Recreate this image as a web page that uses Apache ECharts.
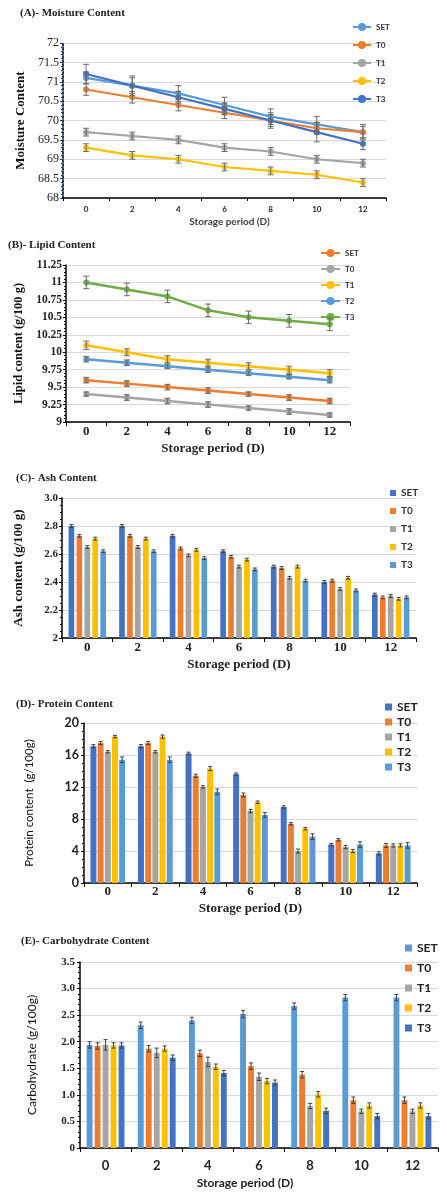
<!DOCTYPE html>
<html><head><meta charset="utf-8">
<script src="https://cdn.jsdelivr.net/npm/echarts@6/dist/echarts.min.js"></script>
<style>html,body{margin:0;padding:0;background:#fff}#c{width:447px;height:1200px}</style>
</head><body><div id="c"></div>
<script>
// ---------------- data ----------------
const days = ['0','2','4','6','8','10','12'];
const groups = ['SET','T0','T1','T2','T3'];

// (A) Moisture content
const moistSET = [71.1,70.9,70.7,70.4,70.1,69.9,69.7];
const moistT0  = [70.8,70.6,70.4,70.2,70.0,69.8,69.7];
const moistT1  = [69.7,69.6,69.5,69.3,69.2,69.0,68.9];
const moistT2  = [69.3,69.1,69.0,68.8,68.7,68.6,68.4];
const moistT3  = [71.2,70.9,70.6,70.3,70.0,69.7,69.4];
const moistErrSET = [0.15,0.2,0.2,0.2,0.2,0.2,0.2];
const moistErrT0  = [0.15,0.15,0.15,0.15,0.15,0.15,0.15];
const moistErrT1  = [0.1,0.1,0.1,0.1,0.1,0.1,0.1];
const moistErrT2  = [0.1,0.1,0.1,0.1,0.1,0.1,0.1];
const moistErrT3  = [0.25,0.25,0.15,0.15,0.2,0.25,0.15];
const moistTicks = ['68','68.5','69','69.5','70','70.5','71','71.5','72'];

// (B) Lipid content
const lipidSET = [9.6,9.55,9.5,9.45,9.4,9.35,9.3];
const lipidT0  = [9.4,9.35,9.3,9.25,9.2,9.15,9.1];
const lipidT1  = [10.1,10.0,9.9,9.85,9.8,9.75,9.7];
const lipidT2  = [9.9,9.85,9.8,9.75,9.7,9.65,9.6];
const lipidT3  = [11.0,10.9,10.8,10.6,10.5,10.45,10.4];
const lipidErrSET = [0.04,0.04,0.04,0.04,0.03,0.04,0.04];
const lipidErrT0  = [0.03,0.04,0.04,0.04,0.03,0.04,0.03];
const lipidErrT1  = [0.06,0.05,0.05,0.05,0.05,0.05,0.05];
const lipidErrT2  = [0.04,0.04,0.03,0.04,0.03,0.03,0.04];
const lipidErrT3  = [0.09,0.09,0.09,0.09,0.09,0.09,0.09];
const lipidTicks = ['9','9.25','9.5','9.75','10','10.25','10.5','10.75','11','11.25'];

// (C) Ash content
const ashSET = [2.80,2.80,2.73,2.62,2.51,2.40,2.31];
const ashT0  = [2.73,2.73,2.64,2.58,2.50,2.41,2.29];
const ashT1  = [2.65,2.65,2.59,2.51,2.43,2.35,2.30];
const ashT2  = [2.71,2.71,2.63,2.56,2.51,2.43,2.28];
const ashT3  = [2.62,2.62,2.57,2.49,2.41,2.34,2.29];
const ashErr = [0.01,0.01,0.01,0.01,0.01,0.01,0.01];
const ashTicks = ['2','2.2','2.4','2.6','2.8','3.0'];

// (D) Protein content
const protSET = [17.1,17.1,16.2,13.6,9.5,4.8,3.7];
const protT0  = [17.5,17.5,13.4,11.0,7.4,5.4,4.7];
const protT1  = [16.4,16.4,12.0,9.0,4.0,4.5,4.7];
const protT2  = [18.3,18.3,14.3,10.1,6.8,4.0,4.7];
const protT3  = [15.4,15.4,11.4,8.5,5.8,4.8,4.7];
const protErrSET = [0.2,0.2,0.15,0.15,0.15,0.15,0.2];
const protErrT0  = [0.2,0.2,0.2,0.25,0.15,0.15,0.25];
const protErrT1  = [0.15,0.15,0.15,0.2,0.25,0.2,0.2];
const protErrT2  = [0.15,0.2,0.25,0.15,0.15,0.2,0.2];
const protErrT3  = [0.35,0.35,0.35,0.3,0.35,0.35,0.35];
const protTicks = ['0','4','8','12','16','20'];

// (E) Carbohydrate content
const carbSET = [1.94,2.31,2.40,2.52,2.67,2.83,2.83];
const carbT0  = [1.92,1.87,1.78,1.54,1.38,0.90,0.90];
const carbT1  = [1.94,1.79,1.62,1.34,0.79,0.69,0.69];
const carbT2  = [1.93,1.87,1.53,1.26,1.01,0.80,0.80];
const carbT3  = [1.93,1.70,1.41,1.23,0.70,0.60,0.60];
const carbErrSET = [0.06,0.06,0.06,0.07,0.06,0.06,0.06];
const carbErrT0  = [0.06,0.06,0.06,0.06,0.06,0.06,0.06];
const carbErrT1  = [0.1,0.09,0.09,0.07,0.05,0.04,0.04];
const carbErrT2  = [0.05,0.05,0.05,0.05,0.05,0.05,0.05];
const carbErrT3  = [0.05,0.05,0.05,0.05,0.05,0.05,0.05];
const carbTicks = ['0','0.5','1.0','1.5','2.0','2.5','3.0','3.5'];

// ---------------- styling ----------------
const SERIF = 'Liberation Serif', SANS = 'Lato';
const BLUE='#4472C4', ORANGE='#ED7D31', GRAY='#A5A5A5', GOLD='#FFC000', LBLUE='#5B9BD5', GREEN='#70AD47';

const panelA = {vals:[moistSET,moistT0,moistT1,moistT2,moistT3], errs:[moistErrSET,moistErrT0,moistErrT1,moistErrT2,moistErrT3], colors:[LBLUE,ORANGE,GRAY,GOLD,BLUE]};
const panelB = {vals:[lipidSET,lipidT0,lipidT1,lipidT2,lipidT3], errs:[lipidErrSET,lipidErrT0,lipidErrT1,lipidErrT2,lipidErrT3], colors:[ORANGE,GRAY,GOLD,LBLUE,GREEN]};
const panelC = {vals:[ashSET,ashT0,ashT1,ashT2,ashT3], errs:[ashErr,ashErr,ashErr,ashErr,ashErr], colors:[BLUE,ORANGE,GRAY,GOLD,LBLUE], bar:{cat:0.26, gap:0.4}};
const panelD = {vals:[protSET,protT0,protT1,protT2,protT3], errs:[protErrSET,protErrT0,protErrT1,protErrT2,protErrT3], colors:[BLUE,ORANGE,GRAY,GOLD,LBLUE], bar:{cat:0.27, gap:0.2}};
const panelE = {vals:[carbSET,carbT0,carbT1,carbT2,carbT3], errs:[carbErrSET,carbErrT0,carbErrT1,carbErrT2,carbErrT3], colors:[LBLUE,ORANGE,GRAY,GOLD,BLUE], bar:{cat:0.26, gap:0.35}};

function errorSeries(p, name, vals, errs, idx, n, barCfg, color, cap) {
  return {
    type:'custom', name: name + ':err', xAxisIndex:p, yAxisIndex:p, z:5, silent:true,
    data: vals.map((v,i)=>[i, v, errs[i]]),
    encode:{x:0, y:1},
    renderItem(params, api){
      const xi = api.value(0), v = api.value(1), e = api.value(2);
      const base = api.coord([xi, v]);
      let cx = base[0];
      if (barCfg) {
        const bw = api.size([1,0])[0];
        const rem = bw*(1-barCfg.cat);
        const w = rem/(n+(n-1)*barCfg.gap);
        const total = w*n + w*barCfg.gap*(n-1);
        cx = base[0] - total/2 + idx*w*(1+barCfg.gap) + w/2;
      }
      const y1 = api.coord([xi, v+e])[1], y2 = api.coord([xi, v-e])[1];
      const st = {stroke: color, lineWidth: 1};
      return {type:'group', children:[
        {type:'line', shape:{x1:cx,y1:y1,x2:cx,y2:y2}, style:st},
        {type:'line', shape:{x1:cx-cap,y1:y1,x2:cx+cap,y2:y1}, style:st},
        {type:'line', shape:{x1:cx-cap,y1:y2,x2:cx+cap,y2:y2}, style:st}
      ]};
    }
  };
}

const series = [];
function addPanel(p, key, cfg, type) {
  groups.forEach((g, i) => {
    const name = key + ':' + g;
    if (type === 'line') {
      series.push({type:'line', name, xAxisIndex:p, yAxisIndex:p, data:cfg.vals[i], z:3,
        symbol:'circle', symbolSize:6, color:cfg.colors[i],
        lineStyle:{width: key==='A'?2.2:2.5, color:cfg.colors[i]}, itemStyle:{color:cfg.colors[i]}});
    } else {
      series.push({type:'bar', name, xAxisIndex:p, yAxisIndex:p, data:cfg.vals[i], z:2,
        barCategoryGap: (cfg.bar.cat*100)+'%', barGap:(cfg.bar.gap*100)+'%',
        color:cfg.colors[i], itemStyle:{color:cfg.colors[i]}});
    }
  });
  groups.forEach((g, i) => {
    series.push(errorSeries(p, key + ':' + g, cfg.vals[i], cfg.errs[i], i, groups.length,
      type === 'line' ? null : cfg.bar, type === 'line' ? '#6b6b6b' : '#404040', type === 'line' ? 3 : 2));
  });
}
addPanel(0,'A',panelA,'line');
addPanel(1,'B',panelB,'line');
addPanel(2,'C',panelC,'bar');
addPanel(3,'D',panelD,'bar');
addPanel(4,'E',panelE,'bar');

const titleStyle = {fontFamily:SERIF, fontWeight:'bold', fontSize:11, color:'#222'};
const splitLine = {show:true, lineStyle:{color:'#d9d9d9', width:1}};
const blackAxis = {show:true, lineStyle:{color:'#000', width:1.5}};
const minorTick = {show:true, splitNumber:5, length:2, lineStyle:{color:'#000'}};

function legend(key, left, top, opts) {
  return Object.assign({
    orient:'vertical', left, top, padding:0,
    data: groups.map(g => key + ':' + g),
    formatter: n => n.split(':')[1],
    selectedMode:false,
  }, opts);
}

const option = {
  animation:false,
  backgroundColor:'#fff',
  title:[
    {text:'(A)- Moisture Content', left:20, top:8, padding:0, textStyle:titleStyle},
    {text:'(B)- Lipid Content', left:8, top:240, padding:0, textStyle:titleStyle},
    {text:'(C)- Ash Content', left:16, top:473, padding:0, textStyle:titleStyle},
    {text:'(D)- Protein Content', left:16, top:699, padding:0, textStyle:titleStyle},
    {text:'(E)- Carbohydrate Content', left:21, top:936, padding:0, textStyle:titleStyle},
  ],
  legend:[
    legend('A', 352, 22, {itemWidth:18, itemHeight:10, itemGap:8,
      textStyle:{fontFamily:SANS, fontWeight:'bold', fontSize:8, lineHeight:10, color:'#333'}}),
    legend('B', 320, 248, {itemWidth:19, itemHeight:10, itemGap:6,
      textStyle:{fontFamily:SANS, fontWeight:'bold', fontSize:8, lineHeight:10, color:'#333'}}),
    legend('C', 390, 488, {icon:'rect', itemWidth:6, itemHeight:6, itemGap:8,
      textStyle:{fontFamily:SANS, fontWeight:'bold', fontSize:10, lineHeight:10, color:'#333'}}),
    legend('D', 385, 701, {icon:'rect', itemWidth:7, itemHeight:7, itemGap:3,
      textStyle:{fontFamily:SANS, fontWeight:'bold', fontSize:12, lineHeight:12, color:'#222'}}),
    legend('E', 405, 942, {icon:'rect', itemWidth:7, itemHeight:7, itemGap:8,
      textStyle:{fontFamily:SANS, fontWeight:'bold', fontSize:12, lineHeight:12, color:'#222'}}),
  ],
  grid:[
    {left:63, top:43, width:323, height:155, outerBoundsMode:'none'},
    {left:66, top:265, width:284, height:157, outerBoundsMode:'none'},
    {left:62, top:498, width:354, height:140, outerBoundsMode:'none'},
    {left:84, top:723, width:333, height:160, outerBoundsMode:'none'},
    {left:80, top:962, width:358, height:186, outerBoundsMode:'none'},
  ],
  xAxis:[
    {gridIndex:0, type:'category', data:days, boundaryGap:true, axisLine:blackAxis,
      axisTick:{show:true, length:3, lineStyle:{color:'#000'}},
      axisLabel:{interval:0, margin:7, fontFamily:SANS, fontWeight:'bold', fontSize:8, color:'#222'},
      name:'Storage period (D)', nameLocation:'middle', nameGap:19,
      nameTextStyle:{fontFamily:SANS, fontWeight:'bold', fontSize:10, color:'#404040', padding:[0,0,0,10]}},
    {gridIndex:1, type:'category', data:days, boundaryGap:true, axisLine:blackAxis,
      axisTick:{show:true, length:4, lineStyle:{color:'#000'}},
      axisLabel:{interval:0, margin:3, fontFamily:SERIF, fontWeight:'bold', fontSize:13, color:'#222'},
      name:'Storage period (D)', nameLocation:'middle', nameGap:20,
      nameTextStyle:{fontFamily:SERIF, fontWeight:'bold', fontSize:13, color:'#222', padding:[0,0,0,10]}},
    {gridIndex:2, type:'category', data:days, boundaryGap:true, axisLine:blackAxis,
      axisTick:{show:true, length:4, lineStyle:{color:'#000'}},
      axisLabel:{interval:0, margin:3, fontFamily:SERIF, fontWeight:'bold', fontSize:13, color:'#222'},
      name:'Storage period (D)', nameLocation:'middle', nameGap:20,
      nameTextStyle:{fontFamily:SERIF, fontWeight:'bold', fontSize:13, color:'#222'}},
    {gridIndex:3, type:'category', data:days, boundaryGap:true, axisLine:blackAxis,
      axisTick:{show:true, length:4, lineStyle:{color:'#000'}},
      axisLabel:{interval:0, margin:2, fontFamily:SERIF, fontWeight:'bold', fontSize:13, color:'#222'},
      name:'Storage period (D)', nameLocation:'middle', nameGap:19,
      nameTextStyle:{fontFamily:SERIF, fontWeight:'bold', fontSize:13, color:'#222'}},
    {gridIndex:4, type:'category', data:days, boundaryGap:true, axisLine:blackAxis,
      axisTick:{show:true, length:4, lineStyle:{color:'#000'}},
      axisLabel:{interval:0, margin:11, fontFamily:SANS, fontWeight:'bold', fontSize:13, color:'#222'},
      name:'Storage period (D)', nameLocation:'middle', nameGap:29,
      nameTextStyle:{fontFamily:SANS, fontWeight:'bold', fontSize:12, color:'#222', padding:[0,28,0,0]}},
  ],
  yAxis:[
    {gridIndex:0, type:'value', min:68, max:72, interval:0.5,
      axisLine:{show:true, lineStyle:{color:'#1F3864', width:2, type:'dotted'}},
      axisTick:{show:true, length:3, lineStyle:{color:'#1F3864'}}, minorTick:{show:true, splitNumber:5, length:2, lineStyle:{color:'#1F3864'}},
      splitLine, axisLabel:{margin:4, fontFamily:SERIF, fontSize:12, color:'#222', formatter:(v,i)=>moistTicks[i]},
      name:'Moisture Content', nameLocation:'middle', nameRotate:90, nameGap:36,
      nameTextStyle:{fontFamily:SERIF, fontWeight:'bold', fontSize:13, color:'#111'}},
    {gridIndex:1, type:'value', min:9, max:11.25, interval:0.25,
      axisLine:blackAxis, axisTick:{show:true, length:3, lineStyle:{color:'#000'}}, minorTick,
      splitLine, axisLabel:{margin:4, fontFamily:SERIF, fontWeight:'bold', fontSize:11.5, color:'#222', formatter:(v,i)=>lipidTicks[i]},
      name:'Lipid content (g/100 g)', nameLocation:'middle', nameRotate:90, nameGap:41,
      nameTextStyle:{fontFamily:SERIF, fontWeight:'bold', fontSize:12.5, color:'#111'}},
    {gridIndex:2, type:'value', min:2, max:3, interval:0.2,
      axisLine:blackAxis, axisTick:{show:true, length:3, lineStyle:{color:'#000'}}, minorTick:{show:true, splitNumber:4, length:2, lineStyle:{color:'#000'}},
      splitLine, axisLabel:{margin:4, fontFamily:SERIF, fontWeight:'bold', fontSize:11, color:'#222', formatter:(v,i)=>ashTicks[i]},
      name:'Ash content (g/100 g)', nameLocation:'middle', nameRotate:90, nameGap:37,
      nameTextStyle:{fontFamily:SERIF, fontWeight:'bold', fontSize:13, color:'#111'}},
    {gridIndex:3, type:'value', min:0, max:20, interval:4,
      axisLine:blackAxis, axisTick:{show:true, length:3, lineStyle:{color:'#000'}}, minorTick:{show:true, splitNumber:4, length:2, lineStyle:{color:'#000'}},
      splitLine, axisLabel:{margin:5, fontFamily:SANS, fontWeight:'bold', fontSize:12.5, color:'#222', formatter:(v,i)=>protTicks[i]},
      name:'Protein content  (g/100g)', nameLocation:'middle', nameRotate:90, nameGap:49,
      nameTextStyle:{fontFamily:SANS, fontSize:11.5, color:'#111'}},
    {gridIndex:4, type:'value', min:0, max:3.5, interval:0.5,
      axisLine:blackAxis, axisTick:{show:true, length:3, lineStyle:{color:'#000'}}, minorTick:{show:true, splitNumber:5, length:2, lineStyle:{color:'#000'}},
      splitLine, axisLabel:{margin:5, fontFamily:SERIF, fontWeight:'bold', fontSize:11, color:'#222', formatter:(v,i)=>carbTicks[i]},
      name:'Carbohydrate (g/100g)', nameLocation:'middle', nameRotate:90, nameGap:42,
      nameTextStyle:{fontFamily:SANS, fontSize:12, color:'#111'}},
  ],
  series
};

const chart = echarts.init(document.getElementById('c'));
chart.setOption(option);
</script>
</body></html>
